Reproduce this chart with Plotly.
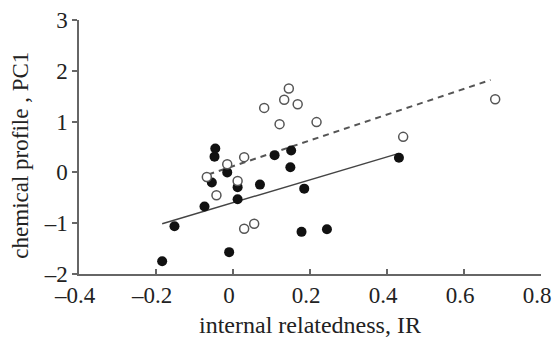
import plotly.graph_objects as go

# Filled points (group A)
filled_x = [-0.184, -0.152, -0.074, -0.055, -0.048, -0.046, -0.015, -0.010, 0.012, 0.012,
            0.070, 0.108, 0.151, 0.149, 0.185, 0.178, 0.244, 0.431]
filled_y = [-1.75, -1.06, -0.67, -0.20, 0.31, 0.47, 0.00, -1.57, -0.29, -0.53,
            -0.24, 0.34, 0.43, 0.10, -0.32, -1.17, -1.12, 0.29]

# Open points (group B)
open_x = [-0.068, -0.043, -0.015, 0.012, 0.029, 0.029, 0.055, 0.081, 0.121, 0.133,
          0.145, 0.168, 0.217, 0.442, 0.681]
open_y = [-0.09, -0.45, 0.16, -0.17, 0.30, -1.11, -1.01, 1.27, 0.95, 1.43,
          1.65, 1.34, 0.99, 0.70, 1.44]

# Fitted lines (endpoints)
fit_filled_x = [-0.184, 0.431]
fit_filled_y = [-1.01, 0.375]
fit_open_x = [-0.064, 0.669]
fit_open_y = [-0.04, 1.82]

x_ticks = [-0.4, -0.2, 0, 0.2, 0.4, 0.6, 0.8]
x_tick_labels = ["\u20130.4", "\u20130.2", "0", "0.2", "0.4", "0.6", "0.8"]
y_ticks = [-2, -1, 0, 1, 2, 3]
y_tick_labels = ["\u20132", "\u20131", "0", "1", "2", "3"]

x_title = "internal relatedness, IR"
y_title = "chemical profile , PC1"

fig = go.Figure()
fig.add_trace(go.Scatter(x=fit_filled_x, y=fit_filled_y, mode="lines",
                         line=dict(color="#444444", width=1.5), showlegend=False))
fig.add_trace(go.Scatter(x=fit_open_x, y=fit_open_y, mode="lines",
                         line=dict(color="#555555", width=2, dash="6px,5px"), showlegend=False))
fig.add_trace(go.Scatter(x=filled_x, y=filled_y, mode="markers",
                         marker=dict(size=10, color="#111111", line=dict(width=0)),
                         showlegend=False))
fig.add_trace(go.Scatter(x=open_x, y=open_y, mode="markers",
                         marker=dict(size=9, color="white", line=dict(width=1.5, color="#555555")),
                         showlegend=False))

font_family = "Liberation Serif, Times New Roman, serif"
fig.update_layout(
    width=553, height=338,
    margin=dict(l=79, r=12, t=20, b=64),
    paper_bgcolor="white", plot_bgcolor="white",
    font=dict(family=font_family, size=23, color="#222222"),
)
fig.update_xaxes(
    range=[-0.4, 0.8], tickmode="array", tickvals=x_ticks, ticktext=x_tick_labels,
    showgrid=False, zeroline=False, showline=True, linecolor="#666666", linewidth=1.5,
    ticks="inside", ticklen=5, tickcolor="#666666", tickwidth=1.5, automargin=False,
    ticklabeloverflow="allow", ticklabelshift=-4,
    title=dict(text=x_title, font=dict(size=24), standoff=9),
    tickfont=dict(size=23),
)
fig.update_yaxes(
    range=[-2, 3], tickmode="array", tickvals=y_ticks, ticktext=y_tick_labels,
    showgrid=False, zeroline=False, showline=True, linecolor="#666666", linewidth=1.5,
    ticks="outside", ticklen=5, tickcolor="#666666", tickwidth=1.5, automargin=False,
    ticklabeloverflow="allow",
    tickfont=dict(size=23),
)
fig.add_annotation(
    text=y_title, textangle=-90, showarrow=False,
    xref="paper", yref="paper", x=0, y=0.466, xanchor="center", yanchor="middle",
    xshift=-58, font=dict(size=23, family=font_family, color="#222222"),
)

fig.write_html(
    "out.html",
    config={"displayModeBar": False},
    post_script="document.body.style.margin='0';document.documentElement.style.overflow='hidden';",
)
